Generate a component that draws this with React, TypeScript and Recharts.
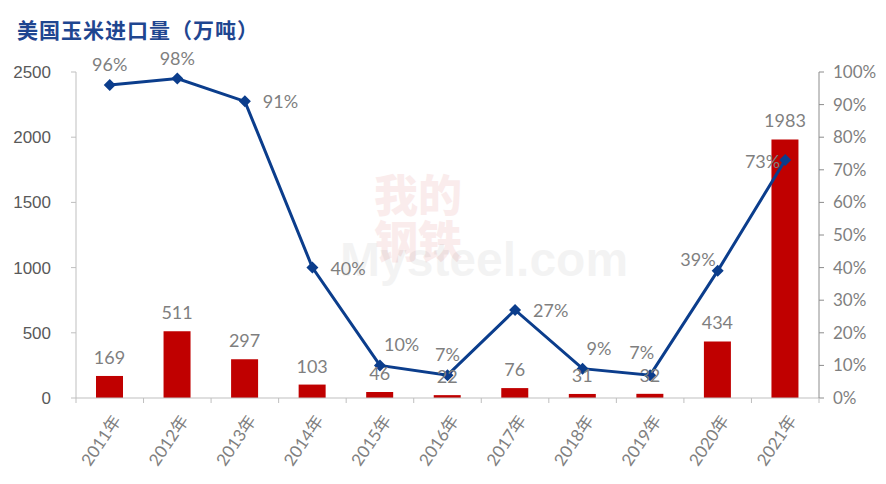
import React from 'react';
import {
  ComposedChart,
  Bar,
  Line,
  XAxis,
  YAxis,
  LabelList
} from 'recharts';

// 美国玉米进口量（万吨）及依存度
const years = ['2011年', '2012年', '2013年', '2014年', '2015年', '2016年', '2017年', '2018年', '2019年', '2020年', '2021年'];
const imports = [169, 511, 297, 103, 46, 22, 76, 31, 32, 434, 1983];
const ratio = [96, 98, 91, 40, 10, 7, 27, 9, 7, 39, 73];
const leftTicks = [0, 500, 1000, 1500, 2000, 2500];
const rightTicks = [0, 10, 20, 30, 40, 50, 60, 70, 80, 90, 100];

// where each percent label sits relative to its marker
const labelPlace = ['top', 'top', 'right', 'right', 'topRight', 'top', 'right', 'topRight', 'topLeft', 'topLeftFar', 'left'];

const W = 886;
const H = 484;
const LEFT_W = 76;
const RIGHT_W = 67;
const PLOT_W = W - LEFT_W - RIGHT_W;
const STEP = PLOT_W / years.length;

const data = years.map((y, i) => ({ year: y, imports: imports[i], ratio: ratio[i] }));

const XTick = (props: any) => {
  const { x, y, payload, index } = props;
  const left = x - STEP / 2;
  const ax = x + 7;
  const ay = y + 11;
  return (
    <g>
      <line x1={left} y1={y - 8} x2={left} y2={y - 3} stroke="#bfbfbf" />
      {index === years.length - 1 && (
        <line x1={x + STEP / 2} y1={y - 8} x2={x + STEP / 2} y2={y - 3} stroke="#bfbfbf" />
      )}
      <text
        x={ax}
        y={ay}
        textAnchor="end"
        fill="#7f7f7f"
        fontSize={17}
        fontFamily="Lato, 'Noto Sans CJK SC', sans-serif"
        transform={`rotate(-56 ${ax} ${ay})`}
        dy={6}
      >
        {payload.value}
      </text>
    </g>
  );
};

const LineLabel = (props: any) => {
  const { x, y, value, index } = props;
  const place = labelPlace[index];
  let tx = x;
  let ty = y - 14;
  let anchor: 'middle' | 'start' | 'end' = 'middle';
  if (place === 'right') {
    tx = x + 18;
    ty = y + 7;
    anchor = 'start';
  } else if (place === 'left') {
    tx = x - 5;
    ty = y + 8;
    anchor = 'end';
  } else if (place === 'topRight') {
    tx = x + 4;
    ty = y - 14;
    anchor = 'start';
  } else if (place === 'topLeft') {
    tx = x + 4;
    ty = y - 16;
    anchor = 'end';
  } else if (place === 'topLeftFar') {
    tx = x - 2;
    ty = y - 5;
    anchor = 'end';
  }
  return (
    <text
      x={tx}
      y={ty}
      textAnchor={anchor}
      fill="#7f7f7f"
      fontSize={18}
      fontFamily="Lato, sans-serif"
    >
      {value}%
    </text>
  );
};

const Diamond = (props: any) => {
  const { cx, cy } = props;
  const r = 6;
  return (
    <path
      d={`M${cx},${cy - r}L${cx + r},${cy}L${cx},${cy + r}L${cx - r},${cy}Z`}
      fill="#0b3d8c"
    />
  );
};

export default function App() {
  return (
    <div style={{ position: 'absolute', left: 0, top: 0, width: W, height: H, background: '#fff' }}>
      <div
        style={{
          position: 'absolute',
          left: 17,
          top: 14,
          fontSize: 21,
          fontWeight: 700,
          color: '#1f4690',
          fontFamily: "'Noto Sans CJK SC', sans-serif",
          letterSpacing: 1
        }}
      >
        美国玉米进口量（万吨）
      </div>
      {/* watermark */}
      <div style={{ position: 'absolute', left: 374, top: 170, color: '#c00000', opacity: 0.07, fontSize: 44, fontWeight: 900, lineHeight: '46px', fontFamily: "'Noto Sans CJK SC', sans-serif" }}>
        我的<br />钢铁
      </div>
      <div style={{ position: 'absolute', left: 340, top: 232, color: '#000', opacity: 0.045, fontSize: 48, fontWeight: 700, fontFamily: "'Liberation Sans', sans-serif" }}>
        Mysteel.com
      </div>
      <ComposedChart
        width={W}
        height={H}
        data={data}
        margin={{ top: 72, right: 0, bottom: 0, left: 0 }}
        style={{ position: 'absolute', left: 0, top: 0 }}
      >
        <XAxis
          dataKey="year"
          height={86}
          axisLine={{ stroke: '#bfbfbf' }}
          tickLine={false}
          tick={<XTick />}
          interval={0}
        />
        <YAxis
          yAxisId="left"
          width={LEFT_W}
          domain={[0, 2500]}
          ticks={leftTicks}
          axisLine={{ stroke: '#bfbfbf' }}
          tickLine={{ stroke: '#bfbfbf' }}
          tickSize={5}
          tickMargin={20}
          tick={{ fill: '#595959', fontSize: 17, fontFamily: "'Liberation Sans', sans-serif" }}
        />
        <YAxis
          yAxisId="right"
          orientation="right"
          width={RIGHT_W}
          domain={[0, 100]}
          ticks={rightTicks}
          tickFormatter={(v: number) => `${v}%`}
          axisLine={{ stroke: '#8c8c8c' }}
          tickLine={{ stroke: '#8c8c8c' }}
          tickSize={5}
          tickMargin={9}
          tick={{ fill: '#7f7f7f', fontSize: 17, fontFamily: 'Lato, sans-serif' }}
        />
        <Bar yAxisId="left" dataKey="imports" fill="#c00000" barSize={27} isAnimationActive={false}>
          <LabelList
            dataKey="imports"
            position="top"
            offset={12}
            fill="#7f7f7f"
            fontSize={18}
            fontFamily="Lato, sans-serif"
          />
        </Bar>
        <Line
          yAxisId="right"
          dataKey="ratio"
          stroke="#0b3d8c"
          strokeWidth={3}
          dot={<Diamond />}
          activeDot={false}
          label={<LineLabel />}
          isAnimationActive={false}
        />
      </ComposedChart>
    </div>
  );
}
